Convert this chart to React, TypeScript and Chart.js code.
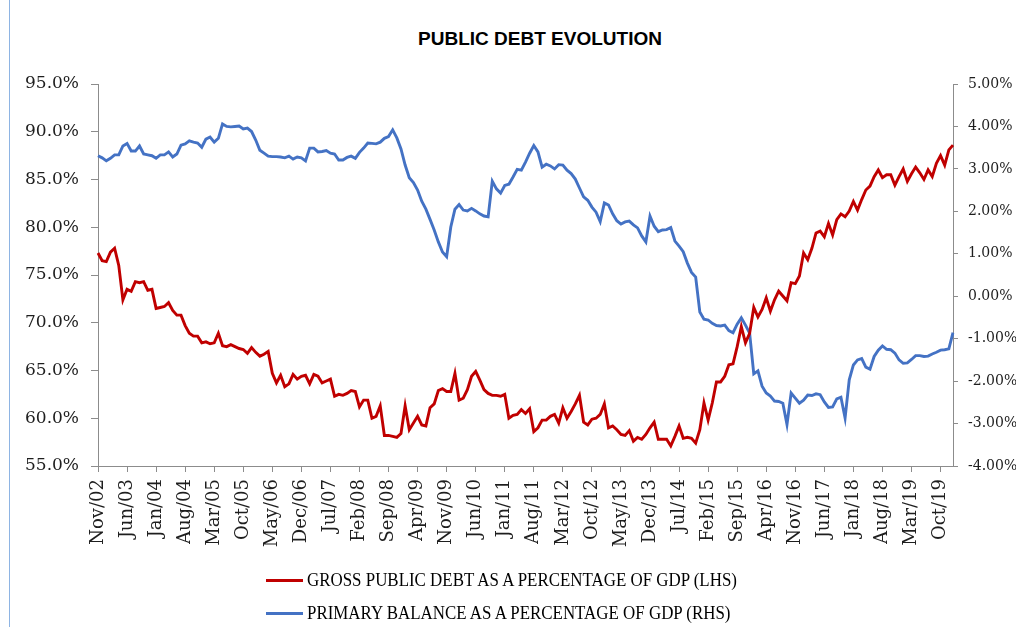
import React, { useEffect, useRef } from 'react';
import { Chart, registerables } from 'chart.js';

Chart.register(...registerables);

const MONTH_NAMES = ['Jan', 'Feb', 'Mar', 'Apr', 'May', 'Jun', 'Jul', 'Aug', 'Sep', 'Oct', 'Nov', 'Dec'];

// Gross public debt, % of GDP (left axis), monthly from Nov/02
const grossDebt = [
  77.3, 76.5, 76.4, 77.4, 77.8, 76.0, 72.4, 73.5, 73.3, 74.3,
  74.2, 74.3, 73.4, 73.5, 71.5, 71.6, 71.7, 72.1, 71.3, 70.8,
  70.8, 69.7, 68.9, 68.6, 68.6, 67.9, 68.0, 67.8, 67.9, 68.9,
  67.6, 67.5, 67.7, 67.5, 67.3, 67.2, 66.8, 67.4, 66.9, 66.5,
  66.7, 67.0, 64.7, 63.7, 64.5, 63.3, 63.6, 64.6, 64.1, 64.4,
  64.5, 63.6, 64.6, 64.4, 63.7, 63.9, 64.1, 62.3, 62.5, 62.4,
  62.6, 62.9, 62.8, 61.2, 61.9, 61.9, 60.0, 60.2, 61.3, 58.2,
  58.2, 58.1, 58.0, 58.4, 61.3, 58.8, 59.5, 60.2, 59.3, 59.2,
  61.1, 61.5, 62.9, 63.1, 62.8, 62.8, 64.7, 61.9, 62.1, 63.0,
  64.4, 64.9, 64.0, 63.0, 62.6, 62.4, 62.4, 62.3, 62.5, 60.0,
  60.3, 60.4, 60.9, 60.5, 61.0, 58.6, 59.0, 59.8, 59.8, 60.2,
  60.4, 59.5, 61.1, 60.0, 60.7, 61.5, 62.4, 59.6, 59.3, 59.9,
  60.0, 60.4, 61.5, 59.0, 59.2, 58.8, 58.3, 58.2, 58.7, 57.6,
  58.0, 57.8, 58.3, 59.0, 59.6, 57.8, 57.8, 57.8, 57.1, 58.1,
  59.2, 57.9, 58.0, 57.9, 57.4, 58.8, 61.6, 59.8, 61.6, 63.8,
  63.8, 64.4, 65.6, 65.7, 67.5, 69.6, 67.9, 68.9, 71.6, 70.6,
  71.4, 72.6, 71.2, 72.4, 73.3, 72.8, 72.3, 74.2, 74.1, 74.9,
  77.3, 76.6, 77.8, 79.4, 79.6, 79.0, 80.4, 79.2, 80.8, 81.4,
  81.1, 81.7, 82.7, 81.8, 82.9, 83.9, 84.3, 85.3, 86.0, 85.2,
  85.5, 85.5, 84.4, 85.3, 86.1, 84.8, 85.6, 86.3, 85.7, 85.0,
  86.0, 85.3, 86.7, 87.5, 86.5, 88.1, 88.6,
];

// Primary balance, % of GDP (right axis)
const primaryBalance = [
  3.31, 3.26, 3.19, 3.25, 3.33, 3.33, 3.54, 3.60, 3.42, 3.42,
  3.54, 3.35, 3.33, 3.31, 3.25, 3.33, 3.33, 3.40, 3.28, 3.35,
  3.56, 3.59, 3.66, 3.63, 3.61, 3.51, 3.70, 3.75, 3.63, 3.72,
  4.06, 4.00, 3.99, 4.00, 4.01, 3.94, 3.96, 3.88, 3.68, 3.44,
  3.37, 3.30, 3.29, 3.29, 3.28, 3.26, 3.30, 3.23, 3.28, 3.26,
  3.19, 3.49, 3.49, 3.40, 3.41, 3.43, 3.37, 3.35, 3.21, 3.21,
  3.27, 3.30, 3.25, 3.39, 3.49, 3.61, 3.60, 3.59, 3.63, 3.72,
  3.76, 3.92, 3.73, 3.47, 3.09, 2.79, 2.68, 2.50, 2.24, 2.05,
  1.81, 1.56, 1.28, 1.04, 0.93, 1.63, 2.05, 2.16, 2.03, 2.01,
  2.07, 2.01, 1.94, 1.89, 1.87, 2.71, 2.53, 2.43, 2.61, 2.64,
  2.81, 2.99, 2.97, 3.16, 3.37, 3.55, 3.40, 3.04, 3.11, 3.07,
  3.00, 3.10, 3.09, 2.97, 2.89, 2.76, 2.55, 2.34, 2.26, 2.10,
  1.98, 1.76, 2.20, 2.15, 1.94, 1.78, 1.70, 1.75, 1.77, 1.68,
  1.61, 1.42, 1.28, 1.89, 1.65, 1.52, 1.56, 1.57, 1.62, 1.30,
  1.18, 1.05, 0.78, 0.56, 0.45, -0.37, -0.54, -0.56, -0.64, -0.69,
  -0.70, -0.68, -0.81, -0.86, -0.66, -0.51, -0.68, -0.87, -1.83, -1.76,
  -2.12, -2.28, -2.35, -2.47, -2.48, -2.52, -3.02, -2.28, -2.40, -2.52,
  -2.45, -2.33, -2.34, -2.30, -2.32, -2.49, -2.62, -2.61, -2.42, -2.38,
  -2.87, -1.97, -1.62, -1.50, -1.47, -1.67, -1.72, -1.42, -1.27, -1.17,
  -1.25, -1.26, -1.34, -1.50, -1.58, -1.57, -1.49, -1.40, -1.40, -1.42,
  -1.41, -1.36, -1.32, -1.27, -1.26, -1.24, -0.86,
];

// Category labels: months from Nov/02
const START_YEAR = 2002;
const START_MONTH = 10; // November (0-based)
const categories = grossDebt.map((_, i) => {
  const m = (START_MONTH + i) % 12;
  const y = START_YEAR + Math.floor((START_MONTH + i) / 12);
  return `${MONTH_NAMES[m]}/${String(y % 100).padStart(2, '0')}`;
});
const LABEL_STEP = 7;

const leftTicks = { min: 55, max: 95, step: 5 };
const rightTicks = { min: -4, max: 5, step: 1 };

const TITLE = 'PUBLIC DEBT EVOLUTION';
const SERIES_NAMES = [
  'GROSS PUBLIC DEBT AS A PERCENTAGE OF GDP (LHS)',
  'PRIMARY BALANCE AS A PERCENTAGE OF GDP (RHS)',
];
const RED = '#C00000';
const BLUE = '#4472C4';
const AXIS = '#8C8C8C';
const TEXT = '#1e1e1e';

export default function App() {
  const canvasRef = useRef<HTMLCanvasElement | null>(null);

  useEffect(() => {
    if (!canvasRef.current) return;
    const chart = new Chart(canvasRef.current, {
      type: 'line',
      data: {
        labels: categories,
        datasets: [
          {
            label: SERIES_NAMES[0],
            data: grossDebt,
            borderColor: RED,
            backgroundColor: RED,
            borderWidth: 2.9,
            pointRadius: 0,
            tension: 0,
            yAxisID: 'y',
          },
          {
            label: SERIES_NAMES[1],
            data: primaryBalance,
            borderColor: BLUE,
            backgroundColor: BLUE,
            borderWidth: 2.9,
            pointRadius: 0,
            tension: 0,
            yAxisID: 'y1',
          },
        ],
      },
      options: {
        responsive: false,
        animation: false,
        layout: { padding: { top: 84, bottom: 51, left: 0, right: 0 } },
        plugins: {
          legend: { display: false },
          title: { display: false },
          tooltip: { enabled: false },
        },
        scales: {
          x: {
            type: 'category',
            offset: false,
            grid: {
              display: true,
              drawOnChartArea: false,
              drawTicks: true,
              tickLength: 6,
              tickColor: (ctx: any) => (ctx.index % LABEL_STEP === 0 ? AXIS : 'rgba(0,0,0,0)'),
            },
            border: { display: true, color: AXIS, width: 1 },
            ticks: {
              autoSkip: false,
              maxRotation: 90,
              minRotation: 90,
              padding: 7,
              color: TEXT,
              font: { family: 'DejaVu Serif', size: 18 },
              callback: (_v: any, i: number) => (i % LABEL_STEP === 0 ? categories[i] : ''),
            },
            afterFit: (s: any) => {
              s.height = 110;
            },
          },
          y: {
            position: 'left',
            min: leftTicks.min,
            max: leftTicks.max,
            grid: { drawOnChartArea: false, drawTicks: true, tickLength: 7, tickColor: AXIS },
            border: { display: true, color: AXIS, width: 1 },
            ticks: {
              stepSize: leftTicks.step,
              padding: 12,
              color: TEXT,
              font: { family: 'DejaVu Serif', size: 17 },
              callback: (v: any) => `${Number(v).toFixed(1)}%`,
            },
            afterFit: (s: any) => {
              s.width = 98;
            },
          },
          y1: {
            position: 'right',
            min: rightTicks.min,
            max: rightTicks.max,
            grid: { drawOnChartArea: false, drawTicks: true, tickLength: 5, tickColor: AXIS },
            border: { display: true, color: AXIS, width: 1 },
            ticks: {
              stepSize: rightTicks.step,
              padding: 10,
              color: TEXT,
              font: { family: 'DejaVu Serif', size: 14 },
              callback: (v: any) => `${Number(v).toFixed(2)}%`,
            },
            afterFit: (s: any) => {
              s.width = 63;
            },
          },
        },
      } as any,
    });
    return () => chart.destroy();
  }, []);

  const legendRow = (top: number, color: string, text: string) => (
    <div
      style={{
        position: 'absolute',
        left: 266,
        top,
        height: 20,
        display: 'flex',
        alignItems: 'center',
        whiteSpace: 'nowrap',
      }}
    >
      <span style={{ display: 'inline-block', width: 37, height: 3, background: color, marginRight: 4 }} />
      <span
        style={{
          display: 'inline-block',
          fontFamily: '"Liberation Serif", serif',
          fontSize: 19,
          lineHeight: '20px',
          color: '#000',
          transform: 'scaleX(0.89)',
          transformOrigin: 'left center',
        }}
      >
        {text}
      </span>
    </div>
  );

  return (
    <div
      style={{
        position: 'absolute',
        left: 0,
        top: 0,
        width: 1016,
        height: 627,
        background: '#fff',
        overflow: 'hidden',
      }}
    >
      <div style={{ position: 'absolute', left: 9, top: 0, width: 1, height: 627, background: '#8EB4E3' }} />
      <div
        style={{
          position: 'absolute',
          left: 290,
          width: 500,
          top: 29,
          textAlign: 'center',
          fontFamily: '"Liberation Sans", Arial, sans-serif',
          fontWeight: 'bold',
          fontSize: 19,
          lineHeight: '19px',
          color: '#000',
        }}
      >
        {TITLE}
      </div>
      <canvas
        ref={canvasRef}
        width={1016}
        height={627}
        style={{ position: 'absolute', left: 0, top: 0, width: 1016, height: 627 }}
      />
      {legendRow(570, RED, SERIES_NAMES[0])}
      {legendRow(603, BLUE, SERIES_NAMES[1])}
    </div>
  );
}
